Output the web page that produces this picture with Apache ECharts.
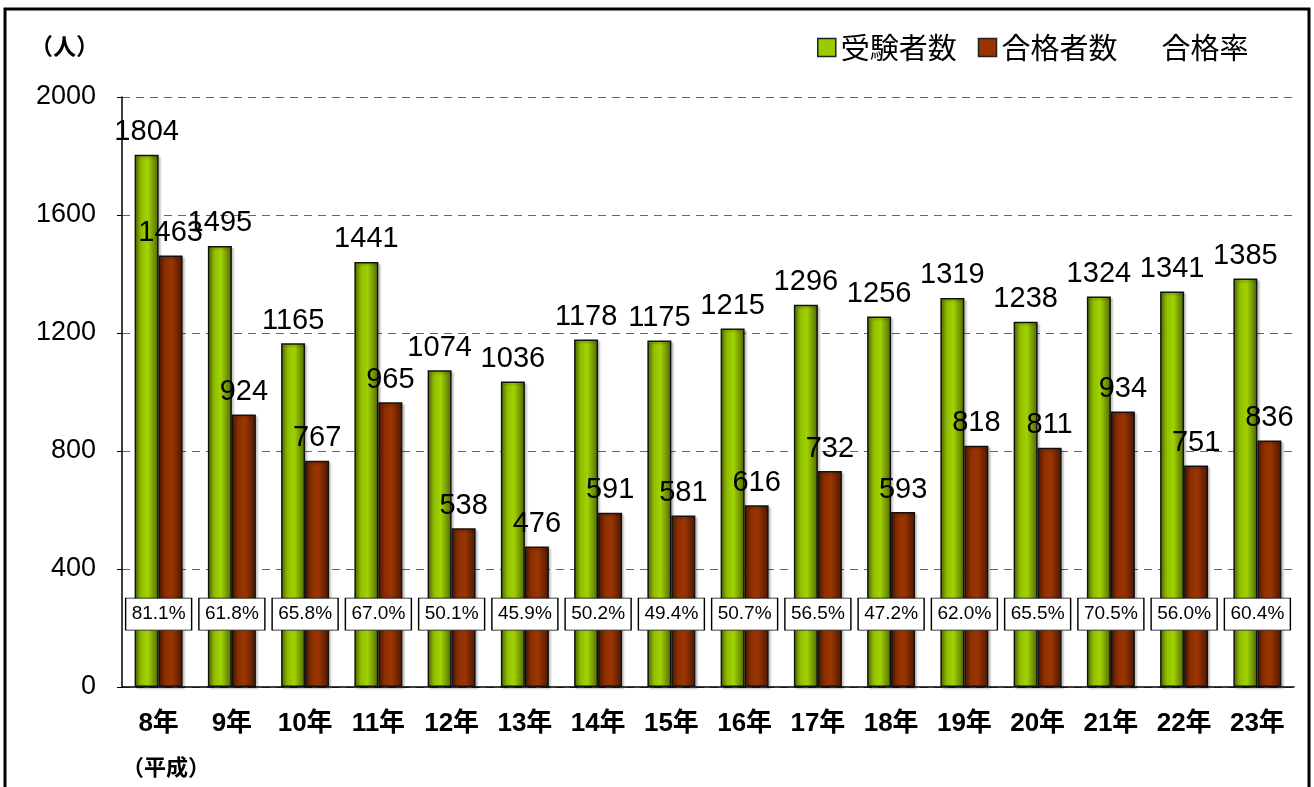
<!DOCTYPE html>
<html>
<head>
<meta charset="utf-8">
<script src="https://cdn.jsdelivr.net/npm/echarts@6/dist/echarts.min.js"></script>
<style>
html,body{margin:0;padding:0;background:#fff;}
#chart{width:1314px;height:787px;}
</style>
</head>
<body>
<div id="chart"></div>
<script>
const categories = ['8年','9年','10年','11年','12年','13年','14年','15年','16年','17年','18年','19年','20年','21年','22年','23年'];
const applicants = [1804,1495,1165,1441,1074,1036,1178,1175,1215,1296,1256,1319,1238,1324,1341,1385];
const passed = [1463,924,767,965,538,476,591,581,616,732,593,818,811,934,751,836];
const passRates = ['81.1%','61.8%','65.8%','67.0%','50.1%','45.9%','50.2%','49.4%','50.7%','56.5%','47.2%','62.0%','65.5%','70.5%','56.0%','60.4%'];
const yTicks = [0,400,800,1200,1600,2000];

const FONT = "'Liberation Sans', Arial, 'Noto Sans CJK JP', sans-serif";
const RATE_ROW_Y = 247; // vertical placement of the rate boxes, in axis units

const chart = echarts.init(document.getElementById('chart'));

const greenGrad = new echarts.graphic.LinearGradient(0,0,1,0,[
  {offset:0,color:'#5d7a00'},{offset:0.3,color:'#92c200'},{offset:0.55,color:'#a2d200'},{offset:1,color:'#4d6600'}
]);
const redGrad = new echarts.graphic.LinearGradient(0,0,1,0,[
  {offset:0,color:'#5a1d00'},{offset:0.3,color:'#8f3000'},{offset:0.55,color:'#9c3500'},{offset:1,color:'#4a1800'}
]);

chart.setOption({
  animation:false,
  textStyle:{fontFamily:FONT},
  grid:{left:122,right:20,top:97,bottom:100},
  legend:{
    left:812, top:28, icon:'rect',
    itemWidth:18, itemHeight:18, itemGap:21,
    textStyle:{fontSize:29,color:'#000',fontFamily:"'Noto Sans CJK JP', sans-serif"},
    data:[
      {name:'受験者数', itemStyle:{color:'#99cc00',borderColor:'#222',borderWidth:1.5}},
      {name:'合格者数', itemStyle:{color:'#993300',borderColor:'#222',borderWidth:1.5}},
      {name:'合格率', icon:'none'}
    ]
  },
  xAxis:{
    type:'category', data:categories,
    axisLine:{lineStyle:{color:'#000',width:1.5}},
    axisTick:{inside:true,length:8,lineStyle:{color:'#555'}},
    axisLabel:{fontSize:26,fontWeight:'bold',color:'#000',margin:24,
      fontFamily:"'Liberation Sans', Arial, 'Noto Sans CJK JP', sans-serif"}
  },
  yAxis:{
    type:'value', min:0, max:2000, interval:400,
    axisLine:{show:true,lineStyle:{color:'#000',width:1.5}},
    axisTick:{show:true,length:5,lineStyle:{color:'#000'}},
    axisLabel:{fontSize:27,color:'#000',margin:26,
      formatter:v=> yTicks.includes(v)? String(v):''},
    splitLine:{lineStyle:{color:'#666',type:[8,6],width:1}}
  },
  graphic:[
    {type:'rect',shape:{x:5,y:9,width:1304,height:800},style:{fill:'none',stroke:'#000',lineWidth:3},z:100},
    {type:'text',left:30,top:35,style:{text:'（人）',font:"bold 23px 'Noto Sans CJK JP', sans-serif",fill:'#000'}},
    {type:'text',left:122,top:756,style:{text:'（平成）',font:"bold 22px 'Noto Sans CJK JP', sans-serif",fill:'#000'}}
  ],
  series:[
    {
      name:'受験者数', type:'bar', data:applicants, barWidth:24, barGap:'0%',
      itemStyle:{color:greenGrad,borderColor:'#111',borderWidth:1.5,
        shadowColor:'rgba(0,0,0,0.2)',shadowOffsetX:2,shadowOffsetY:2,shadowBlur:2},
      label:{show:true,position:'top',distance:8,fontSize:29,color:'#000',fontFamily:FONT}
    },
    {
      name:'合格者数', type:'bar', data:passed, barWidth:24,
      itemStyle:{color:redGrad,borderColor:'#111',borderWidth:1.5,
        shadowColor:'rgba(0,0,0,0.2)',shadowOffsetX:2,shadowOffsetY:2,shadowBlur:2},
      label:{show:true,position:'top',distance:8,fontSize:29,color:'#000',fontFamily:FONT}
    },
    {
      name:'合格率', type:'scatter', z:10,
      data:passRates.map((r,i)=>[i,RATE_ROW_Y]),
      symbol:'rect', symbolSize:[66,32],
      itemStyle:{color:'#fff',borderColor:'#000',borderWidth:1,opacity:1},
      label:{show:true,position:'inside',fontSize:19,color:'#000',fontFamily:FONT,
        formatter:p=>passRates[p.dataIndex]},
      emphasis:{disabled:true}
    }
  ]
});
</script>
</body>
</html>
